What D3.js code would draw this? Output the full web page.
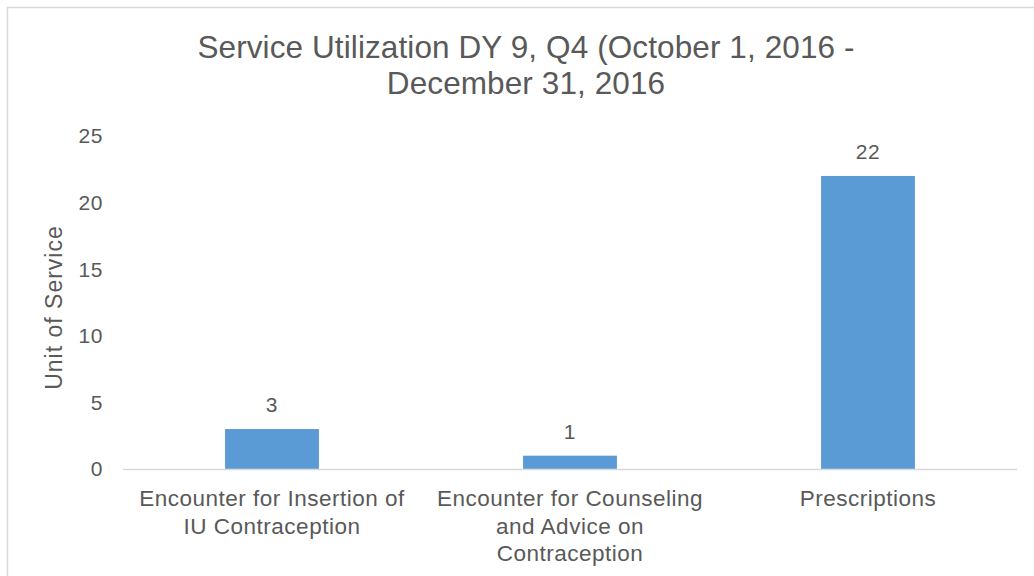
<!DOCTYPE html>
<head>
<meta charset="utf-8">
<title>Service Utilization</title>
<script src="https://cdnjs.cloudflare.com/ajax/libs/d3/7.8.5/d3.min.js"></script>
<style>
  body { margin: 0; background: #fff; }
  text { font-family: "Liberation Sans", Arial, sans-serif; fill: #595959; }
</style>
</head>
<body>
<div id="container"></div>
<script>

const categories = [
  ["Encounter for Insertion of", "IU Contraception"],
  ["Encounter for Counseling", "and Advice on", "Contraception"],
  ["Prescriptions"]
]
const values = [3, 1, 22]
const yTicks = [0, 5, 10, 15, 20, 25]
const titleLines = ["Service Utilization DY 9, Q4 (October 1, 2016 -", "December 31, 2016"]
const yLabel = "Unit of Service"

function chart() {
  const width = 1034; const height = 576;
  const margin = ({top: 136, right: 17, bottom: 107, left: 123})

  const svg = d3.select("div#container").append("svg")
      .attr("width", width).attr("height", height)

  // outer chart border (runs off the picture right and bottom)
  svg.append("rect")
     .attr("x", 7.5).attr("y", 7.5).attr("width", 1060).attr("height", 600)
     .attr("fill", "none").attr("stroke", "#d9d9d9").attr("stroke-width", 1.5)

  const idx = d3.range(values.length)
  const xScale = d3.scaleBand().domain(idx)
    .range([margin.left, width - margin.right])
    .paddingInner(0.685).paddingOuter(0.3425)
  const yScale = d3.scaleLinear().domain([0, 25])
    .range([height - margin.bottom, margin.top])

  const title = svg.append("text")
     .attr("text-anchor", "middle").attr("font-size", 31.5).attr("letter-spacing", 0.1)
  title.selectAll("tspan").data(titleLines).join("tspan")
     .attr("x", 526).attr("y", (d, i) => 58 + i * 36).text(d => d)

  // y tick labels
  svg.append("g").selectAll("text").data(yTicks).join("text")
     .attr("x", 103).attr("y", d => yScale(d)).attr("dy", "0.35em")
     .attr("text-anchor", "end").attr("font-size", 21).attr("letter-spacing", 0.6).text(d => d)

  svg.append("text")
     .attr("transform", `translate(62,${(yScale(0) + yScale(25)) / 2 + 5}) rotate(-90)`)
     .attr("text-anchor", "middle").attr("font-size", 23).attr("letter-spacing", 1).text(yLabel)

  svg.append("g").selectAll("rect").data(idx).join("rect")
     .attr("x", i => xScale(i)).attr("width", xScale.bandwidth())
     .attr("y", i => yScale(values[i])).attr("height", i => yScale(0) - yScale(values[i]))
     .attr("fill", "#5b9bd5")

  svg.append("line")
     .attr("x1", margin.left).attr("x2", width - margin.right)
     .attr("y1", yScale(0) + 0.5).attr("y2", yScale(0) + 0.5)
     .attr("stroke", "#d9d9d9").attr("stroke-width", 1.5)

  svg.append("g").selectAll("text").data(idx).join("text")
     .attr("x", i => xScale(i) + xScale.bandwidth() / 2)
     .attr("y", i => yScale(values[i]) - 17)
     .attr("text-anchor", "middle").attr("font-size", 21).attr("letter-spacing", 0.6).text(i => values[i])

  const cat = svg.append("g").selectAll("text").data(idx).join("text")
     .attr("text-anchor", "middle").attr("font-size", 22.5).attr("letter-spacing", 0.5)
  cat.selectAll("tspan").data(i => categories[i].map(t => ({t, i}))).join("tspan")
     .attr("x", d => xScale(d.i) + xScale.bandwidth() / 2)
     .attr("y", (d, j) => 506 + j * 27.5).text(d => d.t)

  return svg.node();
}

chart()

</script>
</body>
